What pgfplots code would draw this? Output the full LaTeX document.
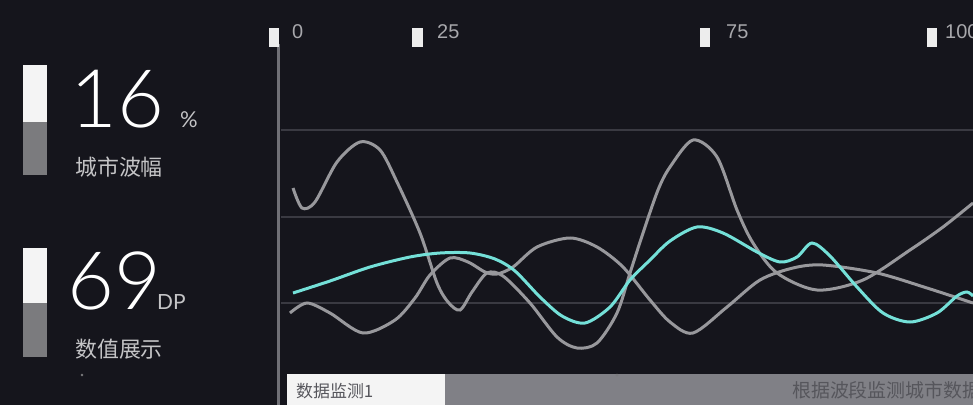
\documentclass[border=0pt]{standalone}
\usepackage{fontspec}
\usepackage{pgfplots}
\pgfplotsset{compat=1.18}
\setmainfont{Liberation Sans}
\newfontfamily\cjk{Noto Sans CJK SC}
\IfFontExistsTF{Lato Light}{\newfontfamily\thinfont{Lato Light}}{\newfontfamily\thinfont{Lato}}
\newfontfamily\latofont{Lato}
\definecolor{bg}{HTML}{15151C}
\definecolor{gridc}{HTML}{3A3A42}
\definecolor{axc}{HTML}{707076}
\definecolor{flag}{HTML}{EDEDED}
\definecolor{ticklab}{HTML}{A8A8AC}
\definecolor{barw}{HTML}{F4F4F4}
\definecolor{barg}{HTML}{7B7B7E}
\definecolor{cyanl}{HTML}{74E0D8}
\definecolor{grayl}{HTML}{98989C}
\definecolor{labc}{HTML}{C4C4C6}
\definecolor{botg}{HTML}{808086}
\definecolor{bottxt}{HTML}{56565C}
\begin{document}
\begin{tikzpicture}
\begin{axis}[
  width=973bp, height=405bp, scale only axis,
  xmin=0, xmax=973, ymin=0, ymax=405, y dir=reverse,
  axis lines=none, xtick=\empty, ytick=\empty,
  axis background/.style={fill=bg},
  clip=false]
% grid lines
\addplot[gridc, line width=2bp] coordinates {(281,130) (973,130)};
\addplot[gridc, line width=2bp] coordinates {(281,217) (973,217)};
\addplot[gridc, line width=2bp] coordinates {(281,303) (973,303)};
% vertical axis line
\addplot[axc, line width=3bp] coordinates {(278.5,44) (278.5,405)};
% tick flags
\addplot[fill=flag, draw=none] coordinates {(269,28) (279,28) (279,47) (269,47)} -- cycle;
\addplot[fill=flag, draw=none] coordinates {(412,28) (423,28) (423,47) (412,47)} -- cycle;
\addplot[fill=flag, draw=none] coordinates {(700,28) (710,28) (710,47) (700,47)} -- cycle;
\addplot[fill=flag, draw=none] coordinates {(927,28) (937,28) (937,47) (927,47)} -- cycle;
\node[anchor=base west, inner sep=0, text=ticklab, font=\fontsize{20}{20}\selectfont] at (292,38) {0};
\node[anchor=base west, inner sep=0, text=ticklab, font=\fontsize{20}{20}\selectfont] at (437,38) {25};
\node[anchor=base west, inner sep=0, text=ticklab, font=\fontsize{20}{20}\selectfont] at (726,38) {75};
\node[anchor=base west, inner sep=0, text=ticklab, font=\fontsize{20}{20}\selectfont] at (945,38) {100};
% left indicator bars
\addplot[fill=barw, draw=none] coordinates {(23,65) (47,65) (47,122) (23,122)} -- cycle;
\addplot[fill=barg, draw=none] coordinates {(23,122) (47,122) (47,175) (23,175)} -- cycle;
\addplot[fill=barw, draw=none] coordinates {(23,248) (47,248) (47,303) (23,303)} -- cycle;
\addplot[fill=barg, draw=none] coordinates {(23,303) (47,303) (47,357) (23,357)} -- cycle;
% big numbers
\node[anchor=base west, inner sep=0, text=white, font=\thinfont\fontsize{81}{81}\selectfont] at (70,127) {16};
\node[anchor=base west, inner sep=0, text=labc, font=\latofont\fontsize{22}{22}\selectfont] at (180,127) {\%};
\node[anchor=base west, inner sep=0, text=labc, font=\cjk\fontsize{22}{22}\selectfont] at (75,175) {城市波幅};
\node[anchor=base west, inner sep=0, text=white, font=\thinfont\fontsize{81}{81}\selectfont] at (67,309) {69};
\node[anchor=base west, inner sep=0, text=labc, font=\latofont\fontsize{21}{21}\selectfont] at (157,309) {DP};
\node[anchor=base west, inner sep=0, text=labc, font=\cjk\fontsize{22}{22}\selectfont] at (75,357) {数值展示};
\addplot[only marks, mark=*, mark size=1.2bp, color=barg] coordinates {(82,375)};
% bottom bar
\addplot[fill=barw, draw=none] coordinates {(287,374) (445,374) (445,405) (287,405)} -- cycle;
\addplot[fill=botg, draw=none] coordinates {(445,374) (973,374) (973,405) (445,405)} -- cycle;
\addplot[only marks, mark=*, mark size=1.2bp, color=barg] coordinates {(617,375)};
\node[anchor=base west, inner sep=0, text=bottxt, font=\cjk\fontsize{17}{17}\selectfont] at (296,397) {数据监测1};
\node[anchor=base west, inner sep=0, text=bottxt, font=\cjk\fontsize{19}{19}\selectfont] at (792,397) {根据波段监测城市数据};
% curves
\addplot[grayl, line width=3bp, smooth] coordinates {
(293,188) (302,208) (315,202) (337,162) (360,142) (380,150) (397,182) (420,233)
(437,283) (448,302) (460,310) (472,292) (487,273) (503,276) (530,303) (557,337)
(577,348) (597,343) (617,313) (630,273) (643,233) (658,190) (670,167) (693,140)
(717,157) (737,210) (753,243) (777,273) (817,290) (863,280) (910,250) (943,227) (973,203)};
\addplot[grayl, line width=3bp, smooth] coordinates {
(290,313) (307,303) (330,313) (363,333) (395,320) (415,298) (430,275) (450,258)
(468,262) (485,272) (497,274) (513,267) (537,247) (570,238) (597,247) (623,267)
(650,300) (670,322) (693,333) (727,307) (760,280) (793,268) (823,265) (877,273)
(927,288) (973,303)};
\addplot[cyanl, line width=3bp, smooth] coordinates {
(293,293) (330,281) (370,267) (410,257) (440,253) (470,253) (495,259) (515,271)
(540,297) (562,316) (585,323) (610,307) (630,280) (650,260) (670,241) (697,227)
(723,233) (757,252) (780,262) (797,257) (812,243) (830,256) (857,287) (883,313)
(910,322) (937,313) (957,296) (967,292) (973,296)};
\end{axis}
\pgfresetboundingbox
\useasboundingbox (current axis.south west) rectangle (current axis.north east);
\end{tikzpicture}
\end{document}
